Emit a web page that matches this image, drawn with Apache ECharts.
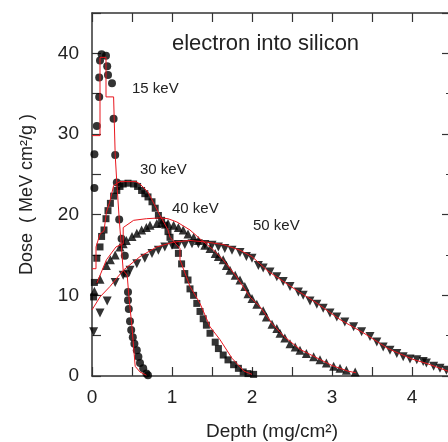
<!DOCTYPE html>
<html><head><meta charset="utf-8">
<script src="https://cdn.jsdelivr.net/npm/echarts@6/dist/echarts.min.js"></script>
<style>html,body{margin:0;padding:0;background:#fff}#c{width:448px;height:442px}</style>
</head><body><div id="c"></div>
<script>
// ---- data (depth mg/cm^2, dose MeV cm^2/g) ----
const xTicks = [0, 1, 2, 3, 4];
const yTicks = [0, 10, 20, 30, 40];
const energies = ['15 keV', '30 keV', '40 keV', '50 keV'];

const meas15 = [[0.03,23.3],[0.03,27.5],[0.06,31.0],[0.09,34.6],[0.09,37.0],[0.1,39.1],[0.12,39.9],[0.175,39.7],[0.19,38.4],[0.2,37.3],[0.25,36.3],[0.27,31.9],[0.29,27.4],[0.31,24.0],[0.34,19.4],[0.37,17.0],[0.41,14.9],[0.43,12.7],[0.45,10.4],[0.45,9.4],[0.46,8.3],[0.475,6.8],[0.49,5.7],[0.51,4.8],[0.53,4.0],[0.56,3.2],[0.58,2.4],[0.6,1.6],[0.64,0.95],[0.68,0.3],[0.70,0.1]];
const meas30 = [[0.02,9.8],[0.03,11.6],[0.06,14.6],[0.1,16.0],[0.12,17.3],[0.15,18.1],[0.175,19.5],[0.2,20.5],[0.23,21.4],[0.27,22.3],[0.31,23.0],[0.35,23.5],[0.39,23.8],[0.45,23.9],[0.52,23.8],[0.57,23.5],[0.62,23.0],[0.66,22.6],[0.70,22.2],[0.75,21.6],[0.79,20.8],[0.83,19.9],[0.87,19.3],[0.91,18.7],[0.95,17.9],[0.975,17.2],[1.04,16.2],[1.08,15.2],[1.12,13.9],[1.16,12.7],[1.2,11.9],[1.225,10.8],[1.27,10.0],[1.31,9.0],[1.35,8.0],[1.39,7.1],[1.43,6.3],[1.475,5.3],[1.54,4.2],[1.58,3.4],[1.64,2.6],[1.70,2.0],[1.77,1.4],[1.83,0.95],[1.89,0.5],[1.95,0.3],[2.02,0.2]];
const meas40 = [[0.03,10.5],[0.1,12.0],[0.18,13.7],[0.23,14.4],[0.29,15.0],[0.35,16.0],[0.39,16.4],[0.43,16.8],[0.5,17.3],[0.56,17.7],[0.62,18.1],[0.68,18.4],[0.725,18.7],[0.81,18.9],[0.87,19.0],[0.95,18.9],[1.02,18.7],[1.08,18.4],[1.14,18.1],[1.2,17.6],[1.27,17.2],[1.33,16.8],[1.41,16.2],[1.475,15.8],[1.54,15.2],[1.58,14.8],[1.64,14.4],[1.68,13.7],[1.725,13.1],[1.79,12.5],[1.85,11.9],[1.91,11.1],[1.95,10.2],[2.0,9.6],[2.06,8.9],[2.14,8.1],[2.18,7.3],[2.25,6.4],[2.31,5.9],[2.35,5.3],[2.41,4.7],[2.475,4.0],[2.54,3.6],[2.6,3.2],[2.68,2.8],[2.77,2.4],[2.85,2.0],[2.93,1.6],[3.02,1.2],[3.1,0.95],[3.18,0.7],[3.29,0.5]];
const meas50 = [[0.02,5.5],[0.1,7.8],[0.19,9.3],[0.29,11.6],[0.39,12.5],[0.475,13.1],[0.56,13.9],[0.66,14.6],[0.75,15.2],[0.83,15.6],[0.91,16.0],[1.0,16.2],[1.08,16.3],[1.16,16.3],[1.25,16.4],[1.33,16.4],[1.41,16.3],[1.5,16.2],[1.58,16.0],[1.66,15.8],[1.75,15.6],[1.85,15.3],[1.93,14.8],[2.0,14.6],[2.08,13.7],[2.14,13.4],[2.225,12.9],[2.31,12.3],[2.39,11.7],[2.475,11.1],[2.58,10.4],[2.64,10.0],[2.725,9.3],[2.81,8.9],[2.89,8.4],[2.975,7.8],[3.06,7.3],[3.16,6.7],[3.27,6.1],[3.37,5.5],[3.475,4.9],[3.56,4.2],[3.64,3.6],[3.725,3.2],[3.81,2.8],[3.89,2.4],[3.975,2.1],[4.06,2.0],[4.14,1.8],[4.18,1.6],[4.27,1.2],[4.35,0.95],[4.43,0.7]];

const sim15 = [[0,29.8],[0.1,29.8],[0.1,39.5],[0.175,39.5],[0.175,34.6],[0.27,34.6],[0.29,27.4],[0.31,24.0],[0.34,19.5],[0.39,13.1],[0.44,12.5],[0.46,10.0],[0.5,6.0],[0.54,1.2],[0.6,0.5],[0.68,0.1]];
const sim30 = [[0,13.3],[0.05,13.3],[0.05,16.0],[0.1,17.6],[0.15,18.0],[0.18,20.3],[0.22,21.5],[0.27,23.6],[0.35,24.1],[0.55,24.1],[0.6,23.8],[0.7,22.8],[0.85,19.9],[0.95,18.1],[0.975,17.2],[1.1,15.8],[1.1,14.4],[1.225,11.1],[1.35,9.0],[1.475,6.1],[1.6,4.5],[1.75,2.2],[1.9,0.6],[2.0,0.2]];
const sim40 = [[0.06,11.5],[0.18,14.4],[0.3,16.0],[0.39,16.4],[0.39,18.4],[0.52,19.3],[0.68,19.5],[0.85,19.6],[0.95,19.5],[1.06,19.1],[1.225,18.1],[1.35,17.0],[1.5,15.8],[1.64,14.4],[1.8,12.4],[1.975,9.8],[2.1,8.6],[2.25,6.5],[2.4,4.9],[2.6,3.3],[2.8,2.3],[3.0,1.3],[3.2,0.6],[3.3,0.4]];
const sim50 = [[0,8.2],[0.1,9.8],[0.225,11.1],[0.39,13.1],[0.6,14.8],[0.81,16.0],[1.02,16.6],[1.225,16.8],[1.43,16.6],[1.64,16.3],[1.85,15.6],[2.0,14.8],[2.2,13.0],[2.5,11.0],[2.8,9.1],[3.1,7.0],[3.4,5.3],[3.7,3.4],[4.0,2.1],[4.2,1.5],[4.45,0.6]];

const FONT = '"Liberation Sans", Arial, sans-serif';
const TXT = '#222';
const RED = '#e8161e';

const chart = echarts.init(document.getElementById('c'));
const axLine = {show: true, onZero: false, lineStyle: {color: '#333', width: 1.5}};
const tick = len => ({inside: true, length: len, lineStyle: {color: '#333', width: 1.2}});
const red = d => ({type: 'line', data: d, symbol: 'none', smooth: false, lineStyle: {color: RED, width: 1}, z: 3, silent: true});
const mk = (d, sym, rot) => ({type: 'scatter', data: d, symbol: sym, symbolSize: sym === 'circle' ? 8 : (sym === 'rect' ? 7 : 9), symbolRotate: rot || 0, itemStyle: {color: '#000'}, z: 2, silent: true});

chart.setOption({
  animation: false,
  grid: {left: 92, top: 13, width: 360, height: 363, containLabel: false, outerBoundsMode: 'none'},
  xAxis: [{
    type: 'value', min: 0, max: 4.5, interval: 0.5,
    name: 'Depth (mg/cm²)', nameLocation: 'middle', nameGap: 46,
    nameTextStyle: {fontSize: 19, color: TXT, fontFamily: FONT},
    axisLine: axLine, splitLine: {show: false}, axisTick: tick(9),
    axisLabel: {margin: 12, fontSize: 19, color: TXT, fontFamily: FONT,
      formatter: v => xTicks.indexOf(v) >= 0 ? String(v) : ''}
  }, {
    type: 'value', position: 'top', min: 0, max: 4.5, interval: 0.5,
    axisLine: axLine, splitLine: {show: false}, axisTick: tick(9),
    axisLabel: {show: false}
  }],
  yAxis: [{
    type: 'value', position: 'left', min: 0, max: 45, interval: 5,
    name: 'Dose  ( MeV cm²/g )', nameLocation: 'middle', nameGap: 56, nameRotate: 90,
    nameTextStyle: {fontSize: 18, color: TXT, fontFamily: FONT},
    axisLine: axLine, splitLine: {show: false}, axisTick: tick(9),
    axisLabel: {margin: 13, fontSize: 19, color: TXT, fontFamily: FONT,
      formatter: v => yTicks.indexOf(v) >= 0 ? String(v) : ''}
  }, {
    type: 'value', position: 'right', min: 0, max: 45, interval: 10,
    axisLine: axLine, splitLine: {show: false}, axisTick: tick(10),
    minorTick: {show: true, splitNumber: 2, length: 6, lineStyle: {color: '#333', width: 1.2}},
    axisLabel: {show: false}
  }],
  graphic: [
    {type: 'text', left: 172, top: 33, style: {text: 'electron into silicon', fontSize: 22, fill: TXT, fontFamily: FONT}},
    {type: 'text', left: 132, top: 81, style: {text: energies[0], fontSize: 15, fill: TXT, fontFamily: FONT}},
    {type: 'text', left: 140, top: 162, style: {text: energies[1], fontSize: 15, fill: TXT, fontFamily: FONT}},
    {type: 'text', left: 172, top: 201, style: {text: energies[2], fontSize: 15, fill: TXT, fontFamily: FONT}},
    {type: 'text', left: 253, top: 218, style: {text: energies[3], fontSize: 15, fill: TXT, fontFamily: FONT}}
  ],
  series: [
    mk(meas15, 'circle'), mk(meas30, 'rect'), mk(meas40, 'triangle'), mk(meas50, 'triangle', 180),
    red(sim15), red(sim30), red(sim40), red(sim50)
  ]
});
</script></body></html>
